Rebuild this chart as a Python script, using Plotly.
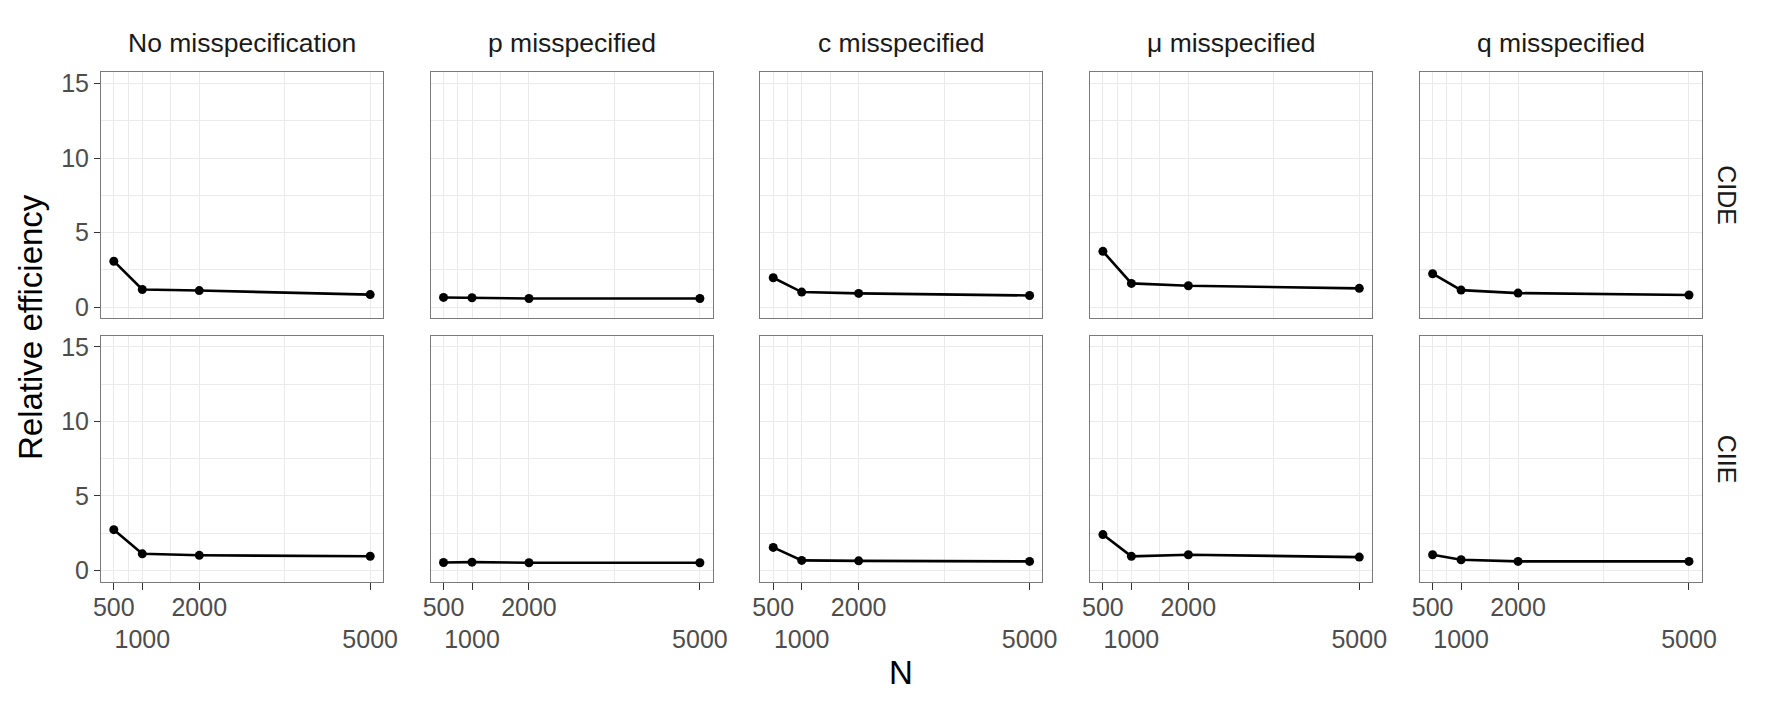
import plotly.graph_objects as go

# sample sizes and facet labels
n_vals = [500, 1000, 2000, 5000]
n_ticks = ["500", "<br>1000", "2000", "<br>5000"]
panels = ["No misspecification", "p misspecified", "c misspecified", "μ misspecified", "q misspecified"]
effects = ["CIDE", "CIIE"]

# relative efficiency
cide_none = [3.08, 1.18, 1.11, 0.84]
cide_p = [0.65, 0.63, 0.58, 0.58]
cide_c = [1.97, 1.01, 0.92, 0.78]
cide_mu = [3.74, 1.59, 1.43, 1.26]
cide_q = [2.24, 1.14, 0.94, 0.81]
ciie_none = [2.74, 1.12, 1.02, 0.96]
ciie_p = [0.54, 0.56, 0.52, 0.52]
ciie_c = [1.55, 0.68, 0.65, 0.61]
ciie_mu = [2.41, 0.95, 1.06, 0.90]
ciie_q = [1.06, 0.72, 0.61, 0.61]

rows = [
    [cide_none, cide_p, cide_c, cide_mu, cide_q],
    [ciie_none, ciie_p, ciie_c, ciie_mu, ciie_q],
]

W, H = 1771, 708
FONT = "Liberation Sans, Arial, Helvetica, sans-serif"
lefts = [101, 430.7, 760.4, 1090.1, 1419.8]
pw = 282
row_px = [(72.3, 318.3), (335.7, 581.7)]

fig = go.Figure()
layout = {}
for r in range(2):
    for c in range(5):
        i = r * 5 + c + 1
        sx = "" if i == 1 else str(i)
        fig.add_trace(go.Scatter(
            x=n_vals, y=rows[r][c], mode="lines+markers",
            line=dict(color="black", width=2.6),
            marker=dict(color="black", size=9),
            xaxis="x" + sx, yaxis="y" + sx, showlegend=False,
        ))
        bottom = r == 1
        left = c == 0
        layout["xaxis" + sx] = dict(
            domain=[lefts[c] / W, (lefts[c] + pw) / W],
            anchor="y" + sx, range=[275, 5225],
            tickmode="array", tickvals=n_vals, ticktext=n_ticks, tickangle=0,
            showticklabels=bottom, ticks="outside" if bottom else "",
            ticklen=7, tickcolor="#333333", ticklabelstandoff=-4,
            tickfont=dict(size=25, color="#4D4D4D", family=FONT),
            showgrid=True, gridcolor="#EBEBEB", gridwidth=1.3,
            minor=dict(tickmode="array", tickvals=[750, 1500, 3500],
                       showgrid=True, gridcolor="#EBEBEB", gridwidth=0.7),
            showline=True, linecolor="#7A7A7A", linewidth=1, mirror=True,
            zeroline=False, automargin=False,
        )
        top, bot = row_px[r]
        layout["yaxis" + sx] = dict(
            domain=[1 - bot / H, 1 - top / H],
            anchor="x" + sx, range=[-0.75, 15.75],
            tickmode="array", tickvals=[0, 5, 10, 15],
            showticklabels=left, ticks="outside" if left else "",
            ticklen=6, tickcolor="#333333",
            tickfont=dict(size=25, color="#4D4D4D", family=FONT),
            showgrid=True, gridcolor="#EBEBEB", gridwidth=1.3,
            minor=dict(tickmode="array", tickvals=[2.5, 7.5, 12.5],
                       showgrid=True, gridcolor="#EBEBEB", gridwidth=0.7),
            showline=True, linecolor="#7A7A7A", linewidth=1, mirror=True,
            zeroline=False, automargin=False,
        )

annotations = []
for c, name in enumerate(panels):
    annotations.append(dict(
        text=name, x=(lefts[c] + pw / 2) / W, y=1 - 43 / H,
        xref="paper", yref="paper", showarrow=False,
        xanchor="center", yanchor="middle",
        font=dict(size=26.5, color="#1A1A1A", family=FONT),
    ))
for r, name in enumerate(effects):
    annotations.append(dict(
        text=name, x=1727 / W, y=1 - (row_px[r][0] + row_px[r][1]) / 2 / H,
        xref="paper", yref="paper", showarrow=False, textangle=90,
        xanchor="center", yanchor="middle",
        font=dict(size=25, color="#1A1A1A", family=FONT),
    ))
annotations.append(dict(
    text="N", x=(lefts[0] + lefts[4] + pw) / 2 / W, y=1 - 672 / H,
    xref="paper", yref="paper", showarrow=False,
    xanchor="center", yanchor="middle",
    font=dict(size=33, color="black", family=FONT),
))
annotations.append(dict(
    text="Relative efficiency", x=30 / W, y=1 - 327 / H,
    xref="paper", yref="paper", showarrow=False, textangle=-90,
    xanchor="center", yanchor="middle",
    font=dict(size=33, color="black", family=FONT),
))

fig.update_layout(
    width=W, height=H,
    margin=dict(l=0, r=0, t=0, b=0),
    paper_bgcolor="white", plot_bgcolor="white",
    annotations=annotations,
    **layout,
)

fig.write_html("out.html", config={"displayModeBar": False},
               post_script="document.body.style.margin='0';")
